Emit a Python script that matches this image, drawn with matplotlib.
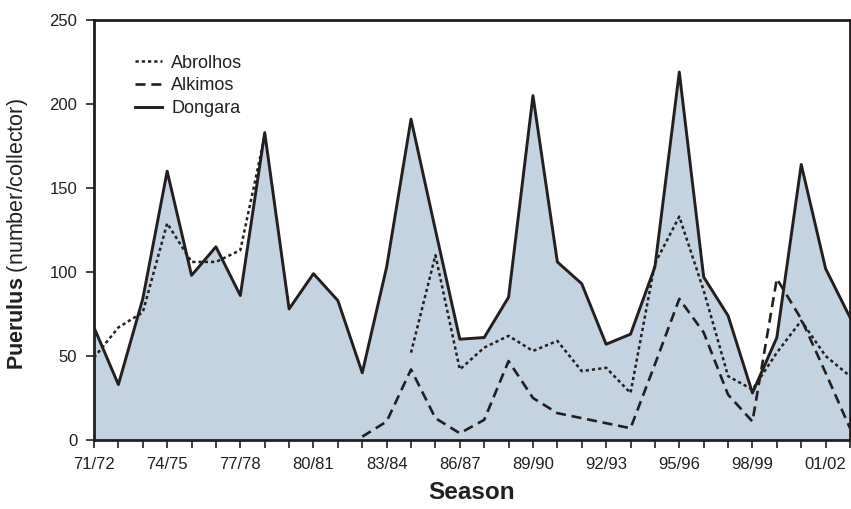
import numpy as np
import matplotlib
matplotlib.use("Agg")
import matplotlib.pyplot as plt

plt.rcParams['font.family'] = ['Liberation Sans', 'DejaVu Sans']
plt.rcParams['mathtext.fontset'] = 'custom'
plt.rcParams['mathtext.rm'] = 'Liberation Sans'
plt.rcParams['mathtext.bf'] = 'Liberation Sans:bold'

seasons = ["71/72", "72/73", "73/74", "74/75", "75/76", "76/77", "77/78", "78/79",
           "79/80", "80/81", "81/82", "82/83", "83/84", "84/85", "85/86", "86/87",
           "87/88", "88/89", "89/90", "90/91", "91/92", "92/93", "93/94", "94/95",
           "95/96", "96/97", "97/98", "98/99", "99/00", "00/01", "01/02", "02/03"]

dongara = [67, 33, 84, 160, 98, 115, 86, 183, 78, 99, 83, 40, 103, 191, 125, 60,
           61, 85, 205, 106, 93, 57, 63, 103, 219, 97, 74, 28, 61, 164, 102, 73]

abrolhos = [49, 67, 76, 129, 106, 106, 113, 181, np.nan, np.nan, np.nan, np.nan, np.nan,
            52, 110, 42, 55, 62, 53, 59, 41, 43, 28, 105, 133, 89, 38, 30, 52, 71, 50, 38]

alkimos = [np.nan] * 11 + [2, 11, 42, 13, 4, 12, 47, 25, 16, 13, 10, 7, 45, 84, 64,
                           27, 11, 96, 72, 40, 7]

tick_labels = [s if i % 3 == 0 else "" for i, s in enumerate(seasons)]

x = np.arange(len(seasons))
ink = '#231f20'

fig = plt.figure(figsize=(8.51, 5.09), dpi=100)
ax = fig.add_axes([94/851, 69/509, 756/851, 420/509])

ax.fill_between(x, 0, dongara, color='#c3d3e1', linewidth=0, zorder=1)
l1, = ax.plot(x, abrolhos, color=ink, lw=1.8, linestyle=(0, (1.3, 1.2)), label='Abrolhos', zorder=3)
l2, = ax.plot(x, alkimos, color=ink, lw=1.9, linestyle=(0, (3.8, 2.2)), label='Alkimos', zorder=3)
l3, = ax.plot(x, dongara, color=ink, lw=2.1, linestyle='-', label='Dongara', zorder=4)

ax.set_xlim(0, len(seasons) - 1)
ax.set_ylim(0, 250)
ax.set_xticks(x)
ax.set_xticklabels(tick_labels)
ax.set_yticks([0, 50, 100, 150, 200, 250])
ax.tick_params(axis='both', direction='out', length=6, width=1.2, color=ink,
               labelsize=12, labelcolor=ink)
ax.tick_params(axis='x', pad=6)
ax.tick_params(axis='y', pad=6)
for sp in ax.spines.values():
    sp.set_linewidth(2.0)
    sp.set_color(ink)

ax.set_xlabel('Season', fontsize=17.5, fontweight='bold', color=ink, labelpad=7)
ax.set_ylabel(r'$\bf{Puerulus}$ (number/collector)', fontsize=15.5, color=ink)
ax.yaxis.set_label_coords(-0.085, 0.49)

leg = ax.legend(handles=[l1, l2, l3], loc='upper left', bbox_to_anchor=(0.045, 0.935),
                frameon=False, fontsize=13, handlelength=1.5, handletextpad=0.5,
                labelspacing=0.32, borderaxespad=0)
for t in leg.get_texts():
    t.set_color(ink)

fig.savefig('out.png', dpi=100)
